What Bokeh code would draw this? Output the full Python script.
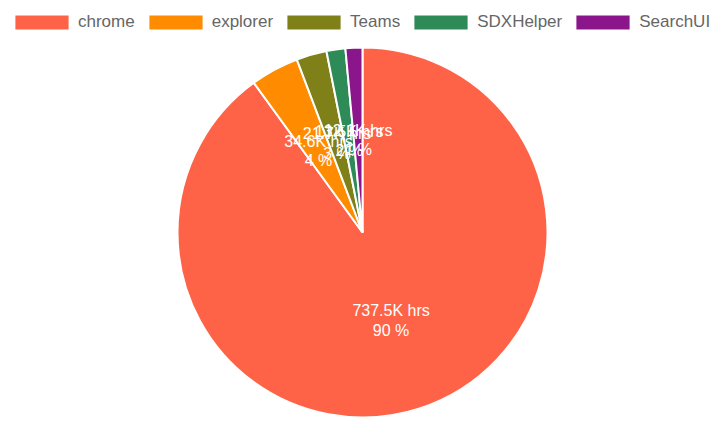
import math
from bokeh.plotting import figure
from bokeh.models import ColumnDataSource, Legend, LegendItem, Range1d
from bokeh.core.properties import value
from bokeh.embed import file_html
from bokeh.resources import INLINE

apps = ["chrome", "explorer", "Teams", "SDXHelper", "SearchUI"]
hours_k = [737.5, 34.6, 21.7, 13.5, 12.1]
colors = ["#FF6347", "#FF8C00", "#808018", "#2E8B57", "#8B168B"]

W, H = 721, 426
cx, cy, R = 362, 194, 185

total = sum(hours_k)
starts, ends, lx, ly, labels = [], [], [], [], []
a = math.pi / 2
for v in hours_k:
    sweep = 2 * math.pi * v / total
    s, e = a, a - sweep
    starts.append(e)
    ends.append(s)
    mid = (s + e) / 2
    lx.append(cx + 0.5 * R * math.cos(mid))
    ly.append(cy + 0.5 * R * math.sin(mid))
    labels.append(f"{v}K hrs\n{round(100 * v / total)} %")
    a = e

src = ColumnDataSource(dict(app=apps, v=hours_k, s=starts, e=ends, color=colors,
                            lx=lx, ly=ly, label=labels))

p = figure(width=W, height=H, output_backend="svg", toolbar_location=None,
           x_range=Range1d(0, W), y_range=Range1d(0, H), min_border=0,
           outline_line_color=None, title=None)
p.axis.visible = False
p.grid.visible = False

r = p.wedge(x=cx, y=cy, radius=R, start_angle="s", end_angle="e", direction="anticlock",
            fill_color="color", line_color="white", line_width=2, source=src)

p.text(x="lx", y="ly", text="label", source=src, text_color="white",
       text_font=value("Liberation Sans"), text_font_size="16px",
       text_align="center", text_baseline="middle", text_line_height=1.15)

items = [LegendItem(label=apps[i], renderers=[r], index=i) for i in range(len(apps))]
legend = Legend(items=items, orientation="horizontal", location=(7, 394),
                glyph_width=69, glyph_height=20, label_standoff=2, spacing=6,
                padding=0, margin=0, border_line_color=None, background_fill_alpha=0,
                label_text_font="Liberation Sans", label_text_font_size="17px",
                label_text_color="#666666", label_height=20)
p.add_layout(legend)

open("out.html", "w").write(file_html(p, INLINE))
